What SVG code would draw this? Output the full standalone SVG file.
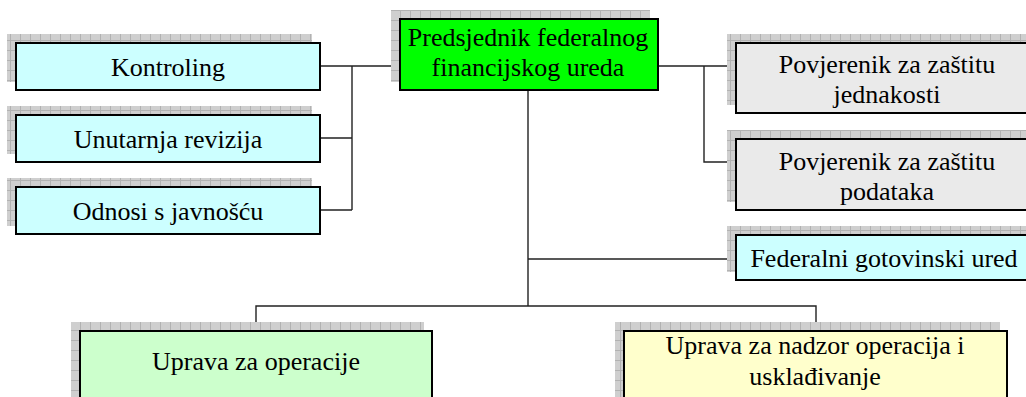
<svg xmlns="http://www.w3.org/2000/svg" width="1026" height="397" viewBox="0 0 1026 397">
<style>
.box{stroke:#000;stroke-width:2}
.sh{fill:url(#grid)}
.t{font-family:'Liberation Serif','Times New Roman',serif;font-size:26px;fill:#000;text-anchor:middle}
.c{fill:none;stroke:#222;stroke-width:1.4}
</style>
<defs>
<pattern id="grid" width="10" height="10" patternUnits="userSpaceOnUse">
<rect width="10" height="10" fill="#cfcfcf"/>
<path d="M0,0.5H10M0.5,0V10" stroke="#b2b2b2" stroke-width="1"/>
</pattern>
</defs>
<g id="connectors">
<path class="c" d="M320,66H399M352,66V210M320,138H352M320,210H352"/>
<path class="c" d="M658,66H735M704,66V162H735"/>
<path class="c" d="M528,90V306M528,259H735"/>
<path class="c" d="M256,330V306H816V330"/>
</g>
<g id="kontroling">
<rect class="sh" x="7" y="34" width="305" height="48"/>
<rect class="box" x="16" y="43" width="304" height="47" fill="#CCFFFF"/>
<text class="t" x="168" y="76">Kontroling</text>
</g>
<g id="unutarnja">
<rect class="sh" x="7" y="106" width="305" height="48"/>
<rect class="box" x="16" y="115" width="304" height="47" fill="#CCFFFF"/>
<text class="t" x="168" y="148">Unutarnja revizija</text>
</g>
<g id="odnosi">
<rect class="sh" x="7" y="178" width="305" height="48"/>
<rect class="box" x="16" y="187" width="304" height="47" fill="#CCFFFF"/>
<text class="t" x="168" y="220">Odnosi s javnošću</text>
</g>
<g id="predsjednik">
<rect class="sh" x="391" y="10" width="259" height="72"/>
<rect class="box" x="400" y="19" width="258" height="71" fill="#00FF00"/>
<text class="t" x="528" y="46">Predsjednik federalnog</text>
<text class="t" x="528" y="76">financijskog ureda</text>
</g>
<g id="povjerenik-jednakosti">
<rect class="sh" x="727" y="34" width="304" height="71"/>
<rect class="box" x="736" y="43" width="302" height="70" fill="#EAEAEA"/>
<text class="t" x="887" y="73">Povjerenik za zaštitu</text>
<text class="t" x="887" y="103">jednakosti</text>
</g>
<g id="povjerenik-podataka">
<rect class="sh" x="727" y="130" width="304" height="72"/>
<rect class="box" x="736" y="139" width="302" height="71" fill="#EAEAEA"/>
<text class="t" x="887" y="170">Povjerenik za zaštitu</text>
<text class="t" x="887" y="200">podataka</text>
</g>
<g id="gotovinski">
<rect class="sh" x="727" y="226" width="304" height="46"/>
<rect class="box" x="736" y="235" width="302" height="45" fill="#CCFFFF"/>
<text class="t" x="884" y="267">Federalni gotovinski ured</text>
</g>
<g id="operacije">
<rect class="sh" x="71" y="322" width="353" height="80"/>
<rect class="box" x="80" y="331" width="352" height="80" fill="#CCFFCC"/>
<text class="t" x="256" y="370">Uprava za operacije</text>
</g>
<g id="nadzor">
<rect class="sh" x="615" y="322" width="385" height="80"/>
<rect class="box" x="624" y="331" width="383" height="80" fill="#FFFFCC"/>
<text class="t" x="815" y="354">Uprava za nadzor operacija i</text>
<text class="t" x="815" y="385">usklađivanje</text>
</g>
</svg>
